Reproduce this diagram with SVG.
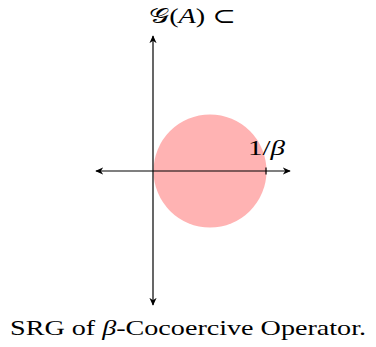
<svg xmlns="http://www.w3.org/2000/svg" width="376" height="347" viewBox="0 0 376 347">
<style>
.ax{stroke:#000;stroke-width:1.2;fill:none}
.t{font-family:"Liberation Serif","DejaVu Serif",serif;fill:#000}
.i{font-style:italic}
</style>
<defs>
<marker id="ah" viewBox="0 0 10 10" refX="9" refY="5" markerWidth="8" markerHeight="8" markerUnits="userSpaceOnUse" orient="auto">
<path d="M0,0.5 L10,5 L0,9.5 L3,5 Z" fill="#000"/>
</marker>
</defs>
<rect width="376" height="347" fill="#fff"/>
<g id="region">
<circle cx="210" cy="171" r="56.5" fill="#ffb3b3"/>
</g>
<g id="connectors">
<line class="ax" x1="153" y1="171" x2="290" y2="171" marker-end="url(#ah)"/>
<line class="ax" x1="153" y1="171" x2="96" y2="171" marker-end="url(#ah)"/>
<line class="ax" x1="153" y1="171" x2="153" y2="36" marker-end="url(#ah)"/>
<line class="ax" x1="153" y1="171" x2="153" y2="305" marker-end="url(#ah)"/>
<line class="ax" x1="266" y1="167.5" x2="266" y2="174.5"/>
</g>
<g id="label-title">
<text class="t" x="149" y="23" font-size="21" textLength="87" lengthAdjust="spacingAndGlyphs"><tspan font-family="'DejaVu Sans','Noto Sans',serif">𝒢</tspan>(<tspan class="i">A</tspan>) ⊂</text>
</g>
<g id="label-beta">
<text class="t" x="248" y="155" font-size="20" textLength="37" lengthAdjust="spacingAndGlyphs">1/<tspan class="i">β</tspan></text>
</g>
<g id="caption">
<text class="t" x="10" y="335" font-size="22" textLength="356" lengthAdjust="spacingAndGlyphs">SRG of <tspan class="i">β</tspan>-Cocoercive Operator.</text>
</g>
</svg>
